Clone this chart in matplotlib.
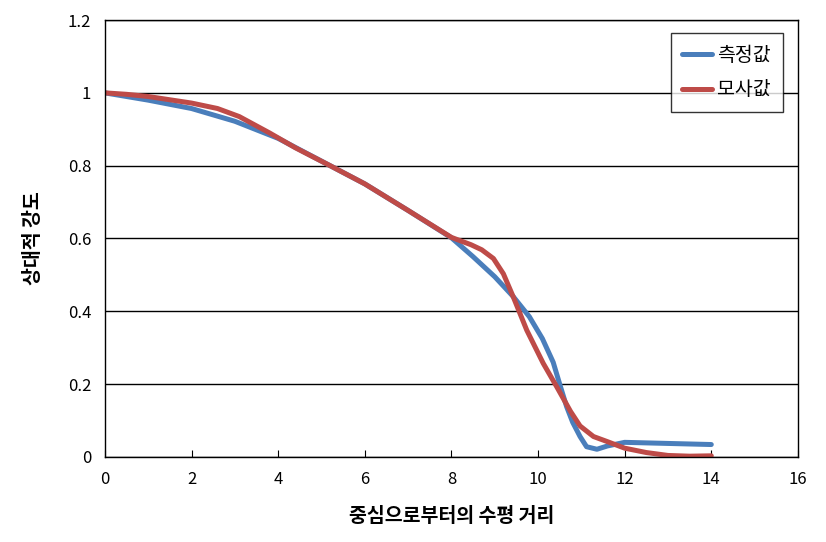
import matplotlib.pyplot as plt

plt.rcParams['font.family'] = ['Noto Sans CJK KR', 'DejaVu Sans']

# 측정값 (measured)
x_meas = [0, 1, 2, 3, 4, 5.2, 6, 7, 8, 8.5, 9, 9.43, 9.8, 10.1, 10.35, 10.5,
          10.66, 10.8, 10.97, 11.12, 11.36, 11.6, 12, 13, 14]
y_meas = [1.0, 0.98, 0.957, 0.922, 0.875, 0.8, 0.75, 0.677, 0.602, 0.55, 0.495, 0.44, 0.385,
          0.325, 0.26, 0.2, 0.138, 0.095, 0.056, 0.028, 0.021, 0.03, 0.04, 0.037, 0.034]

# 모사값 (simulated)
x_sim = [0, 0.5, 1, 2, 2.6, 3.1, 3.8, 4.4, 5.2, 6, 7, 8, 8.2, 8.45, 8.7, 8.97, 9.2, 9.43,
         9.74, 10.12, 10.43, 10.75, 10.97, 11.28, 11.6, 12, 12.5, 13, 13.5, 14]
y_sim = [1.0, 0.996, 0.99, 0.972, 0.957, 0.935, 0.89, 0.849, 0.8, 0.75, 0.677, 0.603,
         0.594, 0.583, 0.569, 0.545, 0.503, 0.439, 0.348, 0.257, 0.193, 0.125, 0.085, 0.056,
         0.042, 0.024, 0.012, 0.004, 0.002, 0.003]

xticks = [0, 2, 4, 6, 8, 10, 12, 14, 16]
yticks = [0, 0.2, 0.4, 0.6, 0.8, 1.0, 1.2]
ytick_labels = ['0', '0.2', '0.4', '0.6', '0.8', '1', '1.2']

fig = plt.figure(figsize=(8.26, 5.42), dpi=100)
ax = fig.add_axes([0.127, 0.157, 0.839, 0.806])

ax.plot(x_meas, y_meas, color='#4A7EBB', lw=3.6, solid_capstyle='round', solid_joinstyle='round', label='측정값')
ax.plot(x_sim, y_sim, color='#BE4B48', lw=3.6, solid_capstyle='round', solid_joinstyle='round', label='모사값')

ax.set_xlim(0, 16)
ax.set_ylim(0, 1.2)
ax.set_xticks(xticks)
ax.set_yticks(yticks)
ax.set_yticklabels(ytick_labels)
ax.yaxis.grid(True, color='black', lw=1)
ax.set_axisbelow(True)
ax.tick_params(axis='x', direction='in', length=5, labelsize=12, pad=10)
ax.tick_params(axis='y', length=0, labelsize=12, pad=10)
for s in ax.spines.values():
    s.set_color('black')
    s.set_linewidth(1)

ax.set_xlabel('중심으로부터의 수평 거리', fontsize=14, fontweight='bold', labelpad=14)
ax.set_ylabel('상대적 강도', fontsize=14, fontweight='bold', labelpad=18)

leg = ax.legend(loc='upper right', bbox_to_anchor=(0.978, 0.97), borderaxespad=0, fontsize=14,
                frameon=True, fancybox=False, edgecolor='black', handlelength=1.5,
                handletextpad=0.3, borderpad=0.6, labelspacing=0.7)
leg.get_frame().set_linewidth(1)

fig.savefig('out.png', dpi=100)
